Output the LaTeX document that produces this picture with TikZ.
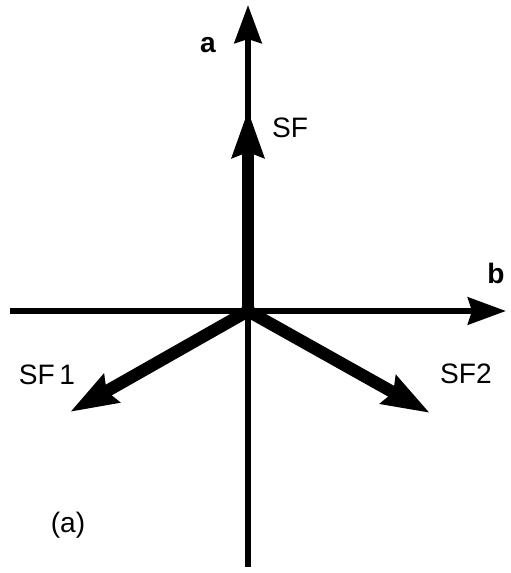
\documentclass[tikz,border=0pt]{standalone}
\usepackage{fontspec}
\setmainfont{Liberation Sans}
\usetikzlibrary{arrows.meta}

\begin{document}
\begin{tikzpicture}[x=0.02cm,y=-0.02cm,
    axis/.style={line width=3.6pt,-{Stealth[length=0.76cm,width=0.54cm,inset=0.08cm]}},
    force/.style={line width=7pt,-{Stealth[length=0.94cm,width=0.62cm,inset=0.1cm]}},
    every node/.style={font=\fontsize{16}{19}\selectfont,inner sep=0pt}]
            \useasboundingbox (0,0) rectangle (510,573);
            \coordinate (o) at (248,311);
            \coordinate (atop) at (248,5);
            \coordinate (abot) at (248,567);
            \coordinate (bleft) at (10,311);
            \coordinate (bright) at (506,311);
            \coordinate (sf) at (248,110);
            \coordinate (sfone) at (70,412);
            \coordinate (sftwo) at (430,413);
            \draw[line width=3.6pt] (abot) -- (o);
            \draw[axis] (o) -- (atop);
            \draw[line width=3.6pt] (bleft) -- (o);
            \draw[axis] (o) -- (bright);
            \draw[force] (o) -- (sf);
            \draw[force] (o) -- (sfone);
            \draw[force] (o) -- (sftwo);
            \node[font=\fontsize{16}{19}\selectfont\bfseries] (lbla) at (208,45) {a};
            \node[font=\fontsize{16}{19}\selectfont\bfseries] (lblb) at (496,273) {b};
            \node (lblsf) at (290,128) {SF};
            \node (lblsfone) at (47,375) {SF\,1};
            \node (lblsftwo) at (466,374) {SF2};
            \node (lblpanel) at (68,525) {(a)};
        \end{tikzpicture}
\end{document}
